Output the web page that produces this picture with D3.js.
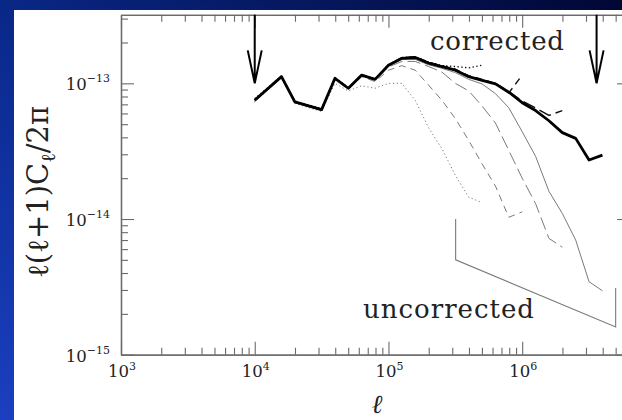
<!DOCTYPE html>
<html><head><meta charset="utf-8">
<script src="https://cdn.jsdelivr.net/npm/d3@7"></script>
<style>html,body{margin:0;padding:0;overflow:hidden;background:#02103e}</style>
</head><body>
<svg id="chart" width="622" height="420"></svg>
<script>
// Multipole bins (ell)
const ell = [1e4, 15849, 19953, 31623, 39811, 50119, 63096, 79433, 1e5, 125893,
  158489, 199526, 251189, 316228, 398107, 501187, 630957, 794328, 1e6, 1258925,
  1584893, 1995262, 2511886, 3162278, 3981072];

// Corrected spectrum, full resolution (thick line)
const correctedFull = [7.5e-14, 1.12e-13, 7.3e-14, 6.4e-14, 1.09e-13, 9.2e-14, 1.15e-13, 1.07e-13,
  1.36e-13, 1.53e-13, 1.55e-13, 1.41e-13, 1.33e-13, 1.25e-13, 1.12e-13, 1.05e-13, 9.9e-14, 8.6e-14,
  7.2e-14, 6.3e-14, 5.3e-14, 4.33e-14, 3.93e-14, 2.72e-14, 2.96e-14];

// Corrected spectra at lower resolutions
const correctedDotted = [7.7e-14, 1.13e-13, 7.4e-14, 6.5e-14, 1.1e-13, 9.3e-14, 1.16e-13, 1.08e-13,
  1.37e-13, 1.55e-13, 1.57e-13, 1.43e-13, 1.35e-13, 1.33e-13, 1.3e-13, 1.36e-13];
const correctedShort = [7.5e-14, 1.12e-13, 7.3e-14, 6.4e-14, 1.09e-13, 9.2e-14, 1.15e-13, 1.07e-13,
  1.37e-13, 1.54e-13, 1.57e-13, 1.43e-13, 1.35e-13, 1.27e-13, 1.14e-13, 1.07e-13, 1.0e-13, 8.5e-14, 1.15e-13];
const correctedLong = [7.5e-14, 1.12e-13, 7.3e-14, 6.4e-14, 1.09e-13, 9.2e-14, 1.15e-13, 1.07e-13,
  1.36e-13, 1.54e-13, 1.56e-13, 1.42e-13, 1.34e-13, 1.26e-13, 1.13e-13, 1.06e-13, 1.0e-13, 8.7e-14,
  7.4e-14, 6.6e-14, 5.8e-14, 6.3e-14];

// Uncorrected spectra at the four resolutions
const uncorrDotted = [7.3e-14, 1.1e-13, 7.1e-14, 6.2e-14, 1.0e-13, 8.8e-14, 9.6e-14, 9.2e-14,
  1.0e-13, 1.0e-13, 7.5e-14, 4.7e-14, 3.3e-14, 2.1e-14, 1.45e-14, 1.32e-14];
const uncorrShort = [7.4e-14, 1.1e-13, 7.2e-14, 6.3e-14, 1.07e-13, 9.0e-14, 1.12e-13, 1.03e-13,
  1.25e-13, 1.35e-13, 1.25e-13, 9.7e-14, 7.5e-14, 5.5e-14, 3.8e-14, 2.55e-14, 1.75e-14, 1.03e-14, 1.13e-14];
const uncorrLong = [7.4e-14, 1.11e-13, 7.2e-14, 6.3e-14, 1.08e-13, 9.1e-14, 1.14e-13, 1.05e-13,
  1.32e-13, 1.45e-13, 1.45e-13, 1.33e-13, 1.21e-13, 1.0e-13, 8.8e-14, 6.8e-14, 5.1e-14, 3.2e-14,
  2.0e-14, 1.3e-14, 7.2e-15, 6.2e-15];
const uncorrSolid = [7.4e-14, 1.11e-13, 7.2e-14, 6.3e-14, 1.08e-13, 9.1e-14, 1.14e-13, 1.06e-13,
  1.34e-13, 1.5e-13, 1.5e-13, 1.37e-13, 1.29e-13, 1.2e-13, 1.07e-13, 9.9e-14, 8.4e-14, 6.6e-14,
  4.4e-14, 2.9e-14, 1.6e-14, 1.1e-14, 7.0e-15, 3.45e-15, 2.96e-15];

// Axis decades
const xDecades = [3, 4, 5, 6];
const yDecades = [-15, -14, -13];

// Resolution limits marked by arrows
const arrowEll = [1e4, 3.6e6];
const arrowTip = 1e-13;

// Bracket grouping the uncorrected curves
const bracketEll = [3.18e5, 3.18e5, 5.0e6, 5.0e6];
const bracketVal = [1e-14, 5e-15, 1.6e-15, 3.1e-15];

const svg = d3.select("#chart");
const W = 622, H = 420;

// slide background
const defs = svg.append("defs");
const grad = defs.append("linearGradient").attr("id", "bg")
  .attr("x1", 0).attr("y1", 1).attr("x2", 1).attr("y2", 0);
grad.append("stop").attr("offset", "0%").attr("stop-color", "#1b3fc0");
grad.append("stop").attr("offset", "45%").attr("stop-color", "#0a2a8e");
grad.append("stop").attr("offset", "100%").attr("stop-color", "#010734");
svg.append("rect").attr("width", W).attr("height", H).attr("fill", "url(#bg)");
svg.append("rect").attr("x", 14).attr("y", 10).attr("width", W - 14).attr("height", H - 10).attr("fill", "#fff");

const pLeft = 121, pRight = 630, pTop = 14.8, pBottom = 354.7;
const x = d3.scaleLog().domain([1e3, 6.4e6]).range([pLeft, pRight]);
const y = d3.scaleLog().domain([1e-15, 3.2e-13]).range([pBottom, pTop]);

const axisColor = "#6a6a6a";
function minorTicks(lo, hi) {
  const out = [];
  for (let e = lo; e < hi; e++) for (let m = 2; m <= 9; m++) out.push(m * Math.pow(10, e));
  return out;
}
const xMajor = xDecades.map(e => Math.pow(10, e));
const xMinor = minorTicks(3, 7).filter(v => v <= 6.4e6);
const yMajor = yDecades.map(e => Math.pow(10, e));
const yMinor = minorTicks(-15, -13).concat([2e-13, 3e-13]);

function styleAxis(g) {
  g.selectAll("path").attr("stroke", axisColor).attr("stroke-width", 1.3);
  g.selectAll("line").attr("stroke", axisColor).attr("stroke-width", 1.1);
  g.selectAll("text").remove();
}
const axes = svg.append("g");
[[d3.axisBottom(x), pBottom], [d3.axisTop(x), pTop]].forEach(([ax, pos]) => {
  axes.append("g").attr("transform", `translate(0,${pos})`)
    .call(ax.tickValues(xMajor).tickSizeInner(-13).tickSizeOuter(0)).call(styleAxis);
  axes.append("g").attr("transform", `translate(0,${pos})`)
    .call(ax.tickValues(xMinor).tickSizeInner(-7).tickSizeOuter(0)).call(styleAxis);
});
[[d3.axisLeft(y), pLeft], [d3.axisRight(y), pRight]].forEach(([ax, pos]) => {
  axes.append("g").attr("transform", `translate(${pos},0)`)
    .call(ax.tickValues(yMajor).tickSizeInner(-13).tickSizeOuter(0)).call(styleAxis);
  axes.append("g").attr("transform", `translate(${pos},0)`)
    .call(ax.tickValues(yMinor).tickSizeInner(-7).tickSizeOuter(0)).call(styleAxis);
});

// tick labels with superscript exponents
const labelFont = "'DejaVu Serif', serif";
xDecades.forEach(e => {
  const t = svg.append("text").attr("x", x(Math.pow(10, e)) + 1).attr("y", 377)
    .attr("text-anchor", "middle").attr("font-family", labelFont).attr("fill", "#222");
  t.append("tspan").attr("font-size", 16.5).text("10");
  t.append("tspan").attr("font-size", 11).attr("dy", -7).text(String(e));
});
yDecades.forEach(e => {
  const t = svg.append("text").attr("x", 110).attr("y", y(Math.pow(10, e)) + 7)
    .attr("text-anchor", "end").attr("font-family", labelFont).attr("fill", "#222");
  t.append("tspan").attr("font-size", 16.5).text("10");
  t.append("tspan").attr("font-size", 11).attr("dy", -8).text("\u2212" + Math.abs(e));
});

// axis titles
const yt = svg.append("text").attr("transform", "translate(48,192) rotate(-90)")
  .attr("text-anchor", "middle").attr("font-family", labelFont).attr("font-size", 29).attr("fill", "#222");
yt.append("tspan").text("\u2113(\u2113+1)C");
yt.append("tspan").attr("font-size", 20).attr("dy", 7).text("\u2113");
yt.append("tspan").attr("dy", -7).text("/2\u03c0");
svg.append("text").attr("x", 377).attr("y", 413).attr("text-anchor", "middle")
  .attr("font-family", labelFont).attr("font-style", "italic").attr("font-size", 26).attr("fill", "#222").text("\u2113");

// curves
const line = d3.line().x((d, i) => x(ell[i])).y(d => y(d));
const curves = svg.append("g").attr("fill", "none").attr("stroke-linejoin", "round");
const grayC = "#7a7a7a";
[[uncorrDotted, "1.2,2.6"], [uncorrShort, "7,5"], [uncorrLong, "13,5"], [uncorrSolid, null]].forEach(([vals, dash]) => {
  curves.append("path").attr("d", line(vals)).attr("stroke", grayC).attr("stroke-width", 1)
    .attr("stroke-dasharray", dash);
});
[[correctedDotted, "1.4,2.4"], [correctedShort, "7,5"], [correctedLong, "13,5"]].forEach(([vals, dash]) => {
  curves.append("path").attr("d", line(vals)).attr("stroke", "#111").attr("stroke-width", 1.4)
    .attr("stroke-dasharray", dash);
});
curves.append("path").attr("d", line(correctedFull)).attr("stroke", "#000").attr("stroke-width", 2.8);

// bracket
const bracket = d3.line().x((d, i) => x(bracketEll[i])).y(d => y(d));
svg.append("path").attr("d", bracket(bracketVal)).attr("fill", "none").attr("stroke", grayC).attr("stroke-width", 1.1);

// resolution arrows
arrowEll.forEach(l => {
  const ax = x(l), tipY = y(arrowTip);
  svg.append("path").attr("d", `M${ax},${pTop}V${tipY}M${ax - 7},${tipY - 33}L${ax},${tipY}L${ax + 7},${tipY - 33}`)
    .attr("fill", "none").attr("stroke", "#000").attr("stroke-width", 2);
});

// labels
svg.append("text").attr("x", 430).attr("y", 50).attr("font-family", labelFont).attr("font-size", 26)
  .attr("textLength", 134).attr("lengthAdjust", "spacing").attr("fill", "#222").text("corrected");
svg.append("text").attr("x", 363).attr("y", 318).attr("font-family", labelFont).attr("font-size", 26)
  .attr("textLength", 171).attr("lengthAdjust", "spacing").attr("fill", "#222").text("uncorrected");
</script>
</body></html>
